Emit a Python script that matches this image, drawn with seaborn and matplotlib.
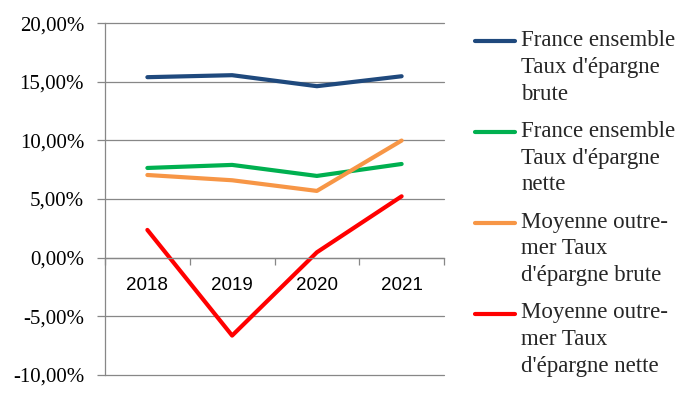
import matplotlib
matplotlib.use("Agg")
import matplotlib.pyplot as plt
import seaborn as sns
import pandas as pd
import numpy as np
from matplotlib.ticker import FixedLocator

years = ["2018", "2019", "2020", "2021"]
series_names = [
    "France ensemble Taux d'épargne brute",
    "France ensemble Taux d'épargne nette",
    "Moyenne outre-mer Taux d'épargne brute",
    "Moyenne outre-mer Taux d'épargne nette",
]
legend_labels = [
    "France ensemble\nTaux d'épargne\nbrute",
    "France ensemble\nTaux d'épargne\nnette",
    "Moyenne outre-\nmer Taux\nd'épargne brute",
    "Moyenne outre-\nmer Taux\nd'épargne nette",
]
france_brute = [15.40, 15.57, 14.63, 15.48]
france_nette = [7.65, 7.91, 6.97, 7.99]
outremer_brute = [7.05, 6.60, 5.69, 9.99]
outremer_nette = [2.36, -6.66, 0.45, 5.23]
colors = ["#1F497D", "#00B050", "#F79646", "#FF0000"]
y_ticks = [-10, -5, 0, 5, 10, 15, 20]
y_tick_labels = ["-10,00%", "-5,00%", "0,00%", "5,00%", "10,00%", "15,00%", "20,00%"]

values = [france_brute, france_nette, outremer_brute, outremer_nette]
df = pd.DataFrame(
    [(y, name, v) for name, vals in zip(series_names, values) for y, v in zip(years, vals)],
    columns=["Année", "Série", "Taux"],
)

sns.set_theme(style="white")
plt.rcParams["font.family"] = ["Liberation Serif", "DejaVu Serif"]

fig = plt.figure(figsize=(6.95, 3.98), dpi=100)
ax = fig.add_axes([105 / 695, 1 - 374.7 / 398, (444 - 105) / 695, (374.7 - 23.3) / 398])

sns.lineplot(data=df, x="Année", y="Taux", hue="Série", hue_order=series_names,
             palette=colors, linewidth=3.0, ax=ax, legend=False, sort=False)
ax.set_xlim(-0.5, 3.5)
ax.set_ylim(-10, 20)
ax.set_yticks(y_ticks, labels=y_tick_labels, fontfamily="Liberation Serif", fontsize=15, color="#000000")
ax.set_xlabel("")
ax.set_ylabel("")

grid_c = "#878787"
ax.grid(axis="y", color=grid_c, linewidth=0.9)
for gl in ax.get_ygridlines():
    gl.set_clip_on(False)
ax.set_axisbelow(True)
for s in ["top", "right"]:
    ax.spines[s].set_visible(False)
ax.spines["left"].set_color(grid_c)
ax.spines["left"].set_linewidth(0.9)
ax.spines["bottom"].set_position(("data", 0))
ax.spines["bottom"].set_color(grid_c)
ax.spines["bottom"].set_linewidth(0.9)

ax.xaxis.set_minor_locator(FixedLocator([-0.5, 0.5, 1.5, 2.5, 3.5]))
ax.tick_params(axis="x", which="major", length=0, pad=14, labelsize=13.5,
               labelcolor="#000000", labelfontfamily="Liberation Sans")
ax.tick_params(axis="x", which="minor", length=5, width=0.9, color=grid_c, direction="out", bottom=True)
ax.tick_params(axis="y", which="major", length=6, width=0.9, color=grid_c, direction="out", left=True, pad=9)

handles = [plt.Line2D([], [], color=c, linewidth=3.0) for c in colors]
fs = 16.5
leg = fig.legend(handles, legend_labels, loc="upper left", bbox_to_anchor=(475 / 695, 1 - 30 / 398),
                 frameon=False, fontsize=fs, handlelength=1.75, handletextpad=0.26,
                 labelspacing=0.71, borderpad=0, borderaxespad=0)
for t in leg.get_texts():
    t.set_linespacing(1.36)
for h in leg.legend_handles:
    yd = np.asarray(h.get_ydata(), dtype=float)
    h.set_ydata(yd + 18.6)

fig.savefig("out.png", dpi=100)
